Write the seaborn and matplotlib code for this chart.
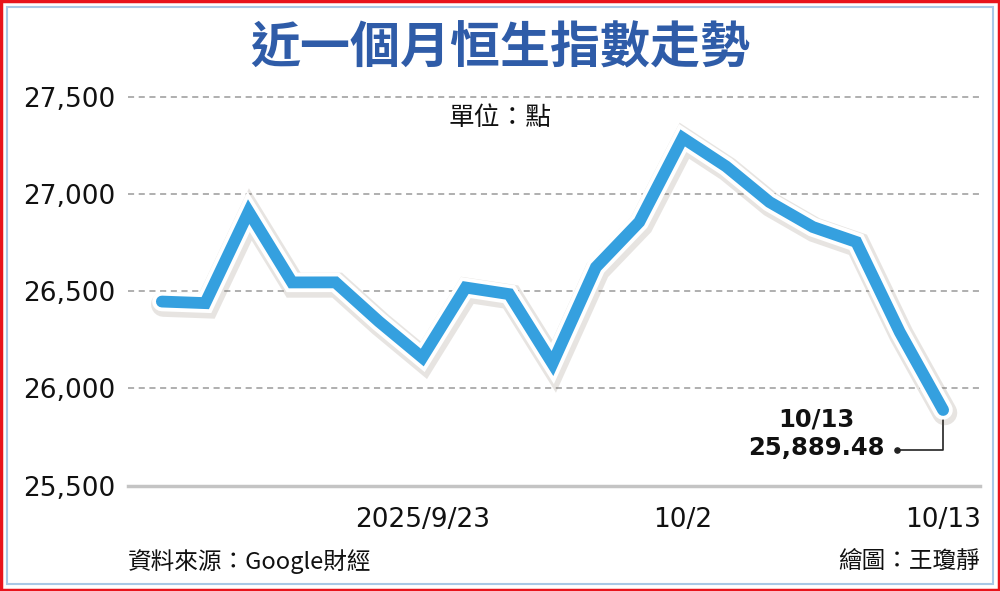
import matplotlib
matplotlib.use("Agg")
import matplotlib.pyplot as plt
import matplotlib.patheffects as pe
from matplotlib.patches import Rectangle
from matplotlib.transforms import offset_copy
import seaborn as sns
import pandas as pd

# Hang Seng Index closes, 2025/9/15 - 2025/10/13 (trading days)
dates = ["9/15", "9/16", "9/17", "9/18", "9/19", "9/22", "9/23", "9/24", "9/25",
         "9/26", "9/29", "9/30", "10/2", "10/3", "10/6", "10/8", "10/9", "10/10", "10/13"]
closes = [26446.56, 26438.51, 26908.39, 26544.85, 26545.10, 26344.14, 26159.12,
          26518.65, 26484.68, 26128.20, 26622.88, 26855.56, 27287.12, 27140.92,
          26957.77, 26829.46, 26752.59, 26290.32, 25889.48]
tick_dates = ["9/23", "10/2", "10/13"]
tick_labels = ["2025/9/23", "10/2", "10/13"]
y_ticks = [25500, 26000, 26500, 27000, 27500]

df = pd.DataFrame({"date": dates, "close": closes})
df["pos"] = range(len(df))

sns.set_theme(style="white")
plt.rcParams["font.family"] = ["Noto Sans CJK TC", "DejaVu Sans"]
num_font = ["DejaVu Sans"]

fig = plt.figure(figsize=(10, 5.91), dpi=100)
ax = fig.add_axes([0.128, 0.178, 0.852, 0.662])

line_blue = "#35a0df"
sns.lineplot(data=df, x="pos", y="close", ax=ax, color=line_blue, linewidth=8.5,
             zorder=5, solid_joinstyle="miter", solid_capstyle="round")
ax.lines[0].set_path_effects([
    pe.SimpleLineShadow(offset=(1.2, -2), shadow_color="#6b5a4a", alpha=0.16, linewidth=18),
    pe.Stroke(linewidth=14, foreground="white"),
    pe.Normal(),
])

ax.set_xlim(-0.78, 18.85)
ax.set_ylim(25500, 27510)
ax.set_yticks(y_ticks)
ax.set_yticklabels([f"{v:,}" for v in y_ticks], fontsize=19, family=num_font)
tick_pos = [dates.index(d) for d in tick_dates]
ax.set_xticks(tick_pos)
ax.set_xticklabels(tick_labels, fontsize=19, family=num_font)
ax.set_xlabel("")
ax.set_ylabel("")

ax.grid(axis="y", linestyle=(0, (4, 3)), color="#9a9a9a", linewidth=1.1)
ax.grid(axis="x", visible=False)
for s in ["top", "right", "left"]:
    ax.spines[s].set_visible(False)
ax.spines["bottom"].set_color("#c4c4c4")
ax.spines["bottom"].set_linewidth(2.5)
ax.tick_params(axis="x", direction="out", length=5, width=2, color="#c4c4c4",
               pad=10, labelcolor="#111111")
ax.tick_params(axis="y", length=0, pad=9, labelcolor="#111111")

# last value callout
last_x, last_y = df["pos"].iloc[-1], df["close"].iloc[-1]
ax.annotate("", xy=(last_x, last_y), xytext=(-33, -29), textcoords="offset points",
            arrowprops=dict(arrowstyle="-", color="#222222", lw=1.2, shrinkA=0, shrinkB=0,
                            connectionstyle="angle,angleA=0,angleB=90,rad=0"),
            zorder=3)
ax.scatter([last_x], [last_y], s=14, color="#222222", zorder=3,
           transform=offset_copy(ax.transData, fig=fig, x=-33, y=-29, units="points"))
ax.annotate(f"{dates[-1]}\n{last_y:,.2f}", xy=(last_x, last_y), xytext=(-91, -17),
            textcoords="offset points", ha="center", va="center", fontsize=17.5,
            fontweight="bold", family=num_font, color="#111111", linespacing=1.25,
            zorder=6)

fig.text(0.5, 0.917, "近一個月恒生指數走勢", ha="center", va="center",
         fontsize=36, fontweight="bold", color="#2f5ca8")
fig.text(0.5, 0.80, "單位：點", ha="center", va="center", fontsize=18.5, color="#111111")
fig.text(0.128, 0.05, "資料來源：Google財經", ha="left", va="center", fontsize=17,
         color="#111111")
fig.text(0.98, 0.05, "繪圖：王瓊靜", ha="right", va="center", fontsize=17, color="#111111")

# frame
fig.patches.append(Rectangle((0.001, 0.002), 0.998, 0.996, transform=fig.transFigure,
                             fill=False, edgecolor="#e8141c", linewidth=2.5))
fig.patches.append(Rectangle((0.007, 0.012), 0.986, 0.976, transform=fig.transFigure,
                             fill=False, edgecolor="#a9c8e6", linewidth=1.5))

fig.savefig("out.png", dpi=100, facecolor="white")
